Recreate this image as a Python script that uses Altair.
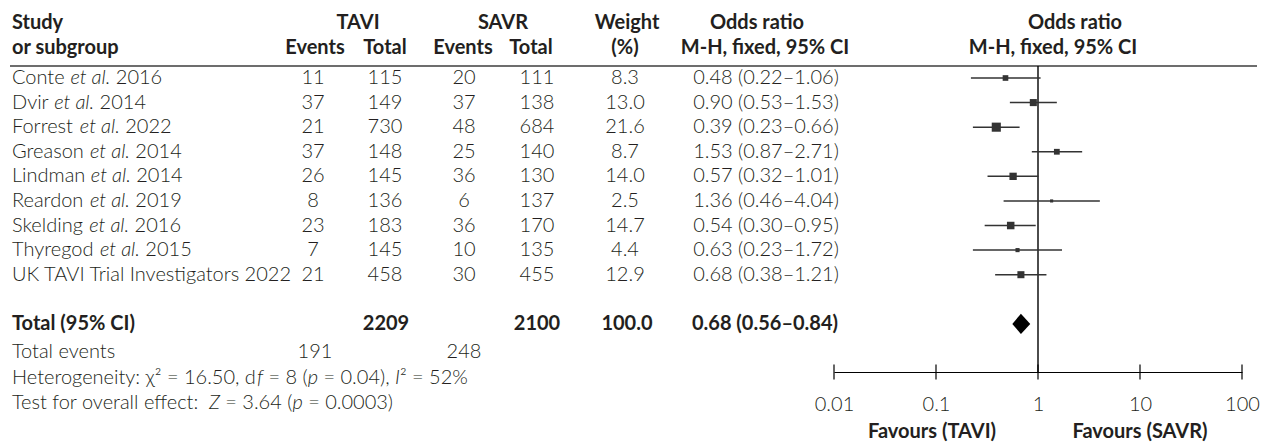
import glob
import os
import struct

import altair as alt
import pandas as pd

# ---------------- data ----------------
study_names = ["Conte", "Dvir", "Forrest", "Greason", "Lindman", "Reardon",
               "Skelding", "Thyregod", "UK TAVI Trial Investigators"]
study_years = [2016, 2014, 2022, 2014, 2014, 2019, 2016, 2015, 2022]
has_etal = [True, True, True, True, True, True, True, True, False]
tavi_events = [11, 37, 21, 37, 26, 8, 23, 7, 21]
tavi_total = [115, 149, 730, 148, 145, 136, 183, 145, 458]
savr_events = [20, 37, 48, 25, 36, 6, 36, 10, 30]
savr_total = [111, 138, 684, 140, 130, 137, 170, 135, 455]
weights = [8.3, 13.0, 21.6, 8.7, 14.0, 2.5, 14.7, 4.4, 12.9]
or_est = [0.48, 0.90, 0.39, 1.53, 0.57, 1.36, 0.54, 0.63, 0.68]
or_lo = [0.22, 0.53, 0.23, 0.87, 0.32, 0.46, 0.30, 0.23, 0.38]
or_hi = [1.06, 1.53, 0.66, 2.71, 1.01, 4.04, 0.95, 1.72, 1.21]

total_tavi = 2209
total_savr = 2100
total_weight = 100.0
total_or = [0.68, 0.56, 0.84]
events_tavi = 191
events_savr = 248
het_chi2, het_df, het_p, het_i2 = "16.50", "8", "0.04", "52%"
test_z, test_p = "3.64", "0.0003"

axis_ticks = [0.01, 0.1, 1, 10, 100]
favours_left = "Favours (TAVI)"
favours_right = "Favours (SAVR)"

# ---------------- style / layout ----------------
FONT = "Lato"
FS = 20
TXT = "#231f20"
MARK = "#333333"
W, H = 1256, 364
ROW_RANGE = [70, 266.7]          # pixel centres of first and last study row


# ---------------- font metrics (for mixed italic runs) ----------------
def _advances(path):
    with open(path, "rb") as fh:
        data = fh.read()
    u16 = lambda o: struct.unpack_from(">H", data, o)[0]
    u32 = lambda o: struct.unpack_from(">I", data, o)[0]
    tabs = {}
    for i in range(u16(4)):
        rec = 12 + 16 * i
        tabs[data[rec:rec + 4].decode("latin-1")] = u32(rec + 8)
    upem = u16(tabs["head"] + 18)
    nh = u16(tabs["hhea"] + 34)
    hm = tabs["hmtx"]
    adv = [u16(hm + 4 * i) for i in range(nh)]
    cm = tabs["cmap"]
    f4 = f12 = None
    for i in range(u16(cm + 2)):
        off = u32(cm + 8 + 8 * i)
        fmt = u16(cm + off)
        if fmt == 4 and f4 is None:
            f4 = cm + off
        if fmt == 12 and f12 is None:
            f12 = cm + off

    def glyph(c):
        if f12 is not None:
            n = u32(f12 + 12)
            for g in range(n):
                s, e, sg = struct.unpack_from(">III", data, f12 + 16 + 12 * g)
                if s <= c <= e:
                    return sg + c - s
            return 0
        seg2 = u16(f4 + 6)
        endb = f4 + 14
        startb = endb + seg2 + 2
        deltab = startb + seg2
        rob = deltab + seg2
        for i in range(seg2 // 2):
            if c <= u16(endb + 2 * i):
                start = u16(startb + 2 * i)
                if c < start:
                    return 0
                delta = u16(deltab + 2 * i)
                ro = u16(rob + 2 * i)
                if ro == 0:
                    return (c + delta) & 0xFFFF
                g = u16(rob + 2 * i + ro + 2 * (c - start))
                return (g + delta) & 0xFFFF if g else 0
        return 0

    cache = {}

    def width(s):
        tot = 0
        for ch in s:
            if ch not in cache:
                g = glyph(ord(ch))
                cache[ch] = adv[min(g, nh - 1)] / upem
            tot += cache[ch]
        return tot * FS
    return width


def _fallback(s):
    tot = 0
    for ch in s:
        if ch.isdigit():
            tot += 0.58
        elif ch == " ":
            tot += 0.19
        elif ch in ".,:;":
            tot += 0.22
        elif ch.isupper():
            tot += 0.64
        else:
            tot += 0.49
    return tot * FS


def _find(names):
    dirs = ["/usr/share/fonts", "/usr/local/share/fonts",
            os.path.expanduser("~/.fonts"), os.path.expanduser("~/.local/share/fonts")]
    for n in names:
        for d in dirs:
            hits = glob.glob(os.path.join(d, "**", n), recursive=True)
            for h in hits:
                try:
                    return _advances(h)
                except Exception:
                    pass
    return _fallback


width_fn = {
    "reg": _find(["Lato-Light.ttf", "Lato-Regular.ttf"]),
    "ital": _find(["Lato-LightItalic.ttf", "Lato-Italic.ttf"]),
    "bold": _find(["Lato-Bold.ttf"]),
}


def rich(segments, x0, row):
    out = []
    cur = x0
    for text, style in segments:
        fn = width_fn[style]
        lead = len(text) - len(text.lstrip(" "))
        core = text.strip(" ")
        if core:
            out.append({"px": cur + fn(text[:lead]), "row": row, "text": core,
                        "style": style, "align": "left"})
        cur += fn(text)
    return out


def cell(text, x, row, style="reg"):
    return {"px": x, "row": row, "text": text, "style": style, "align": "center"}


# ---------------- build text table ----------------
R_H1, R_H2 = -2.24, -1.22
R_TOT, R_EV, R_HET, R_TEST, R_FAV = 10, 11.13, 12.19, 13.2, 14.4
X_LEFT = 4
X_TE, X_TT, X_SE, X_ST, X_W, X_OR = 305, 377, 456, 529, 617, 758

pieces = []
pieces += rich([("Study", "bold")], X_LEFT, R_H1)
pieces += rich([("or subgroup", "bold")], X_LEFT, R_H2)
pieces += [
    cell("TAVI", 350, R_H1, "bold"), cell("Events", 307, R_H2, "bold"), cell("Total", 377, R_H2, "bold"),
    cell("SAVR", 495, R_H1, "bold"), cell("Events", 455, R_H2, "bold"), cell("Total", 523, R_H2, "bold"),
    cell("Weight", 619, R_H1, "bold"), cell("(%)", 617, R_H2, "bold"),
    cell("Odds ratio", 749, R_H1, "bold"), cell("M-H, fixed, 95% CI", 757, R_H2, "bold"),
    cell("Odds ratio", 1067, R_H1, "bold"), cell("M-H, fixed, 95% CI", 1045, R_H2, "bold"),
]

for i, name in enumerate(study_names):
    if has_etal[i]:
        segs = [(name + " ", "reg"), ("et al.", "ital"), (f" {study_years[i]}", "reg")]
    else:
        segs = [(f"{name} {study_years[i]}", "reg")]
    pieces += rich(segs, X_LEFT, i)
    pieces += [
        cell(str(tavi_events[i]), X_TE, i), cell(str(tavi_total[i]), X_TT, i),
        cell(str(savr_events[i]), X_SE, i), cell(str(savr_total[i]), X_ST, i),
        cell(f"{weights[i]:.1f}", X_W, i),
        cell(f"{or_est[i]:.2f} ({or_lo[i]:.2f}–{or_hi[i]:.2f})", X_OR, i),
    ]

pieces += rich([("Total (95% CI)", "bold")], X_LEFT, R_TOT)
pieces += [
    cell(str(total_tavi), X_TT + 1, R_TOT, "bold"), cell(str(total_savr), X_ST, R_TOT, "bold"),
    cell(f"{total_weight:.1f}", X_W + 2, R_TOT, "bold"),
    cell(f"{total_or[0]:.2f} ({total_or[1]:.2f}–{total_or[2]:.2f})", X_OR - 1, R_TOT, "bold"),
]
pieces += rich([("Total events", "reg")], X_LEFT, R_EV)
pieces += [cell(str(events_tavi), X_TE + 2, R_EV), cell(str(events_savr), X_SE, R_EV)]
pieces += rich([(f"Heterogeneity: χ² = {het_chi2}, d", "reg"), ("f", "ital"),
                (f" = {het_df} (", "reg"), ("p", "ital"), (f" = {het_p}), ", "reg"),
                ("I", "ital"), (f"² = {het_i2}", "reg")], X_LEFT, R_HET)
pieces += rich([("Test for overall effect: ", "reg"), ("Z", "ital"), (f" = {test_z} (", "reg"),
                ("p", "ital"), (f" = {test_p})", "reg")], X_LEFT, R_TEST)
pieces += [cell(favours_left, 924, R_FAV, "bold"), cell(favours_right, 1132, R_FAV, "bold")]

text_df = pd.DataFrame(pieces)

# ---------------- scales ----------------
px_scale = alt.Scale(domain=[0, W], range=[0, W], nice=False, zero=False)
row_scale = alt.Scale(domain=[0, 8], range=ROW_RANGE, nice=False, zero=False)
or_scale = alt.Scale(type="log", domain=[0.01, 100], range=[826, 1234], nice=False)
Y = alt.Y("row:Q", scale=row_scale, axis=None)

layers = []
for style in ["reg", "ital", "bold"]:
    for align in ["left", "center"]:
        sub = text_df[(text_df["style"] == style) & (text_df["align"] == align)]
        if sub.empty:
            continue
        layers.append(
            alt.Chart(sub).mark_text(
                align=align, baseline="middle", font=FONT, fontSize=FS,
                fontWeight=700 if style == "bold" else 300,
                fontStyle="italic" if style == "ital" else "normal",
                color=TXT,
            ).encode(x=alt.X("px:Q", scale=px_scale, axis=None), y=Y, text="text:N")
        )

forest_df = pd.DataFrame({"row": list(range(len(study_names))), "est": or_est,
                          "lo": or_lo, "hi": or_hi, "weight": weights})

or_axis = alt.Axis(values=axis_ticks, format="~g", ticks=False, domain=True,
                   domainColor="black", domainWidth=1.2, labelFont=FONT, labelFontSize=FS,
                   labelFontWeight=300, labelColor=TXT, labelPadding=22, labelFlush=False,
                   labelOverlap=False, grid=False, title=None)

header_rule = alt.Chart(pd.DataFrame({"a": [0]})).mark_rule(color="#3c3c3c", strokeWidth=1.6).encode(
    x=alt.value(2), x2=alt.value(1249), y=alt.value(58))

ref_line = alt.Chart(pd.DataFrame({"x": [1]})).mark_rule(color="black", strokeWidth=1.4).encode(
    x=alt.X("x:Q", scale=or_scale, axis=None), y=alt.value(58), y2=alt.value(H))

ci = alt.Chart(forest_df).mark_rule(color=MARK, strokeWidth=1.5).encode(
    x=alt.X("lo:Q", scale=or_scale, axis=or_axis), x2="hi:Q", y=Y)

squares = alt.Chart(forest_df).mark_square(filled=True, color=MARK, opacity=1).encode(
    x=alt.X("est:Q", scale=or_scale, axis=None), y=Y,
    size=alt.Size("weight:Q", scale=alt.Scale(domain=[0, 25], range=[0, 96]), legend=None))

dh = 0.41
diamond_df = pd.DataFrame({"x": [total_or[1], total_or[0], total_or[2]],
                           "top": [R_TOT, R_TOT - dh, R_TOT], "bot": [R_TOT, R_TOT + dh, R_TOT]})
diamond = alt.Chart(diamond_df).mark_area(color="black", opacity=1).encode(
    x=alt.X("x:Q", scale=or_scale, axis=None),
    y=alt.Y("top:Q", scale=row_scale, axis=None), y2="bot:Q")

ticks = alt.Chart(pd.DataFrame({"t": axis_ticks})).mark_rule(color="black", strokeWidth=1.2).encode(
    x=alt.X("t:Q", scale=or_scale, axis=None), y=alt.value(H - 7.5), y2=alt.value(H + 7.5))

chart = alt.layer(header_rule, ref_line, ci, squares, diamond, ticks, *layers).resolve_scale(
    x="independent"
).properties(width=W, height=H, padding=0).configure_view(stroke=None)

chart.save("out.html", embed_options={"renderer": "svg", "actions": False})
